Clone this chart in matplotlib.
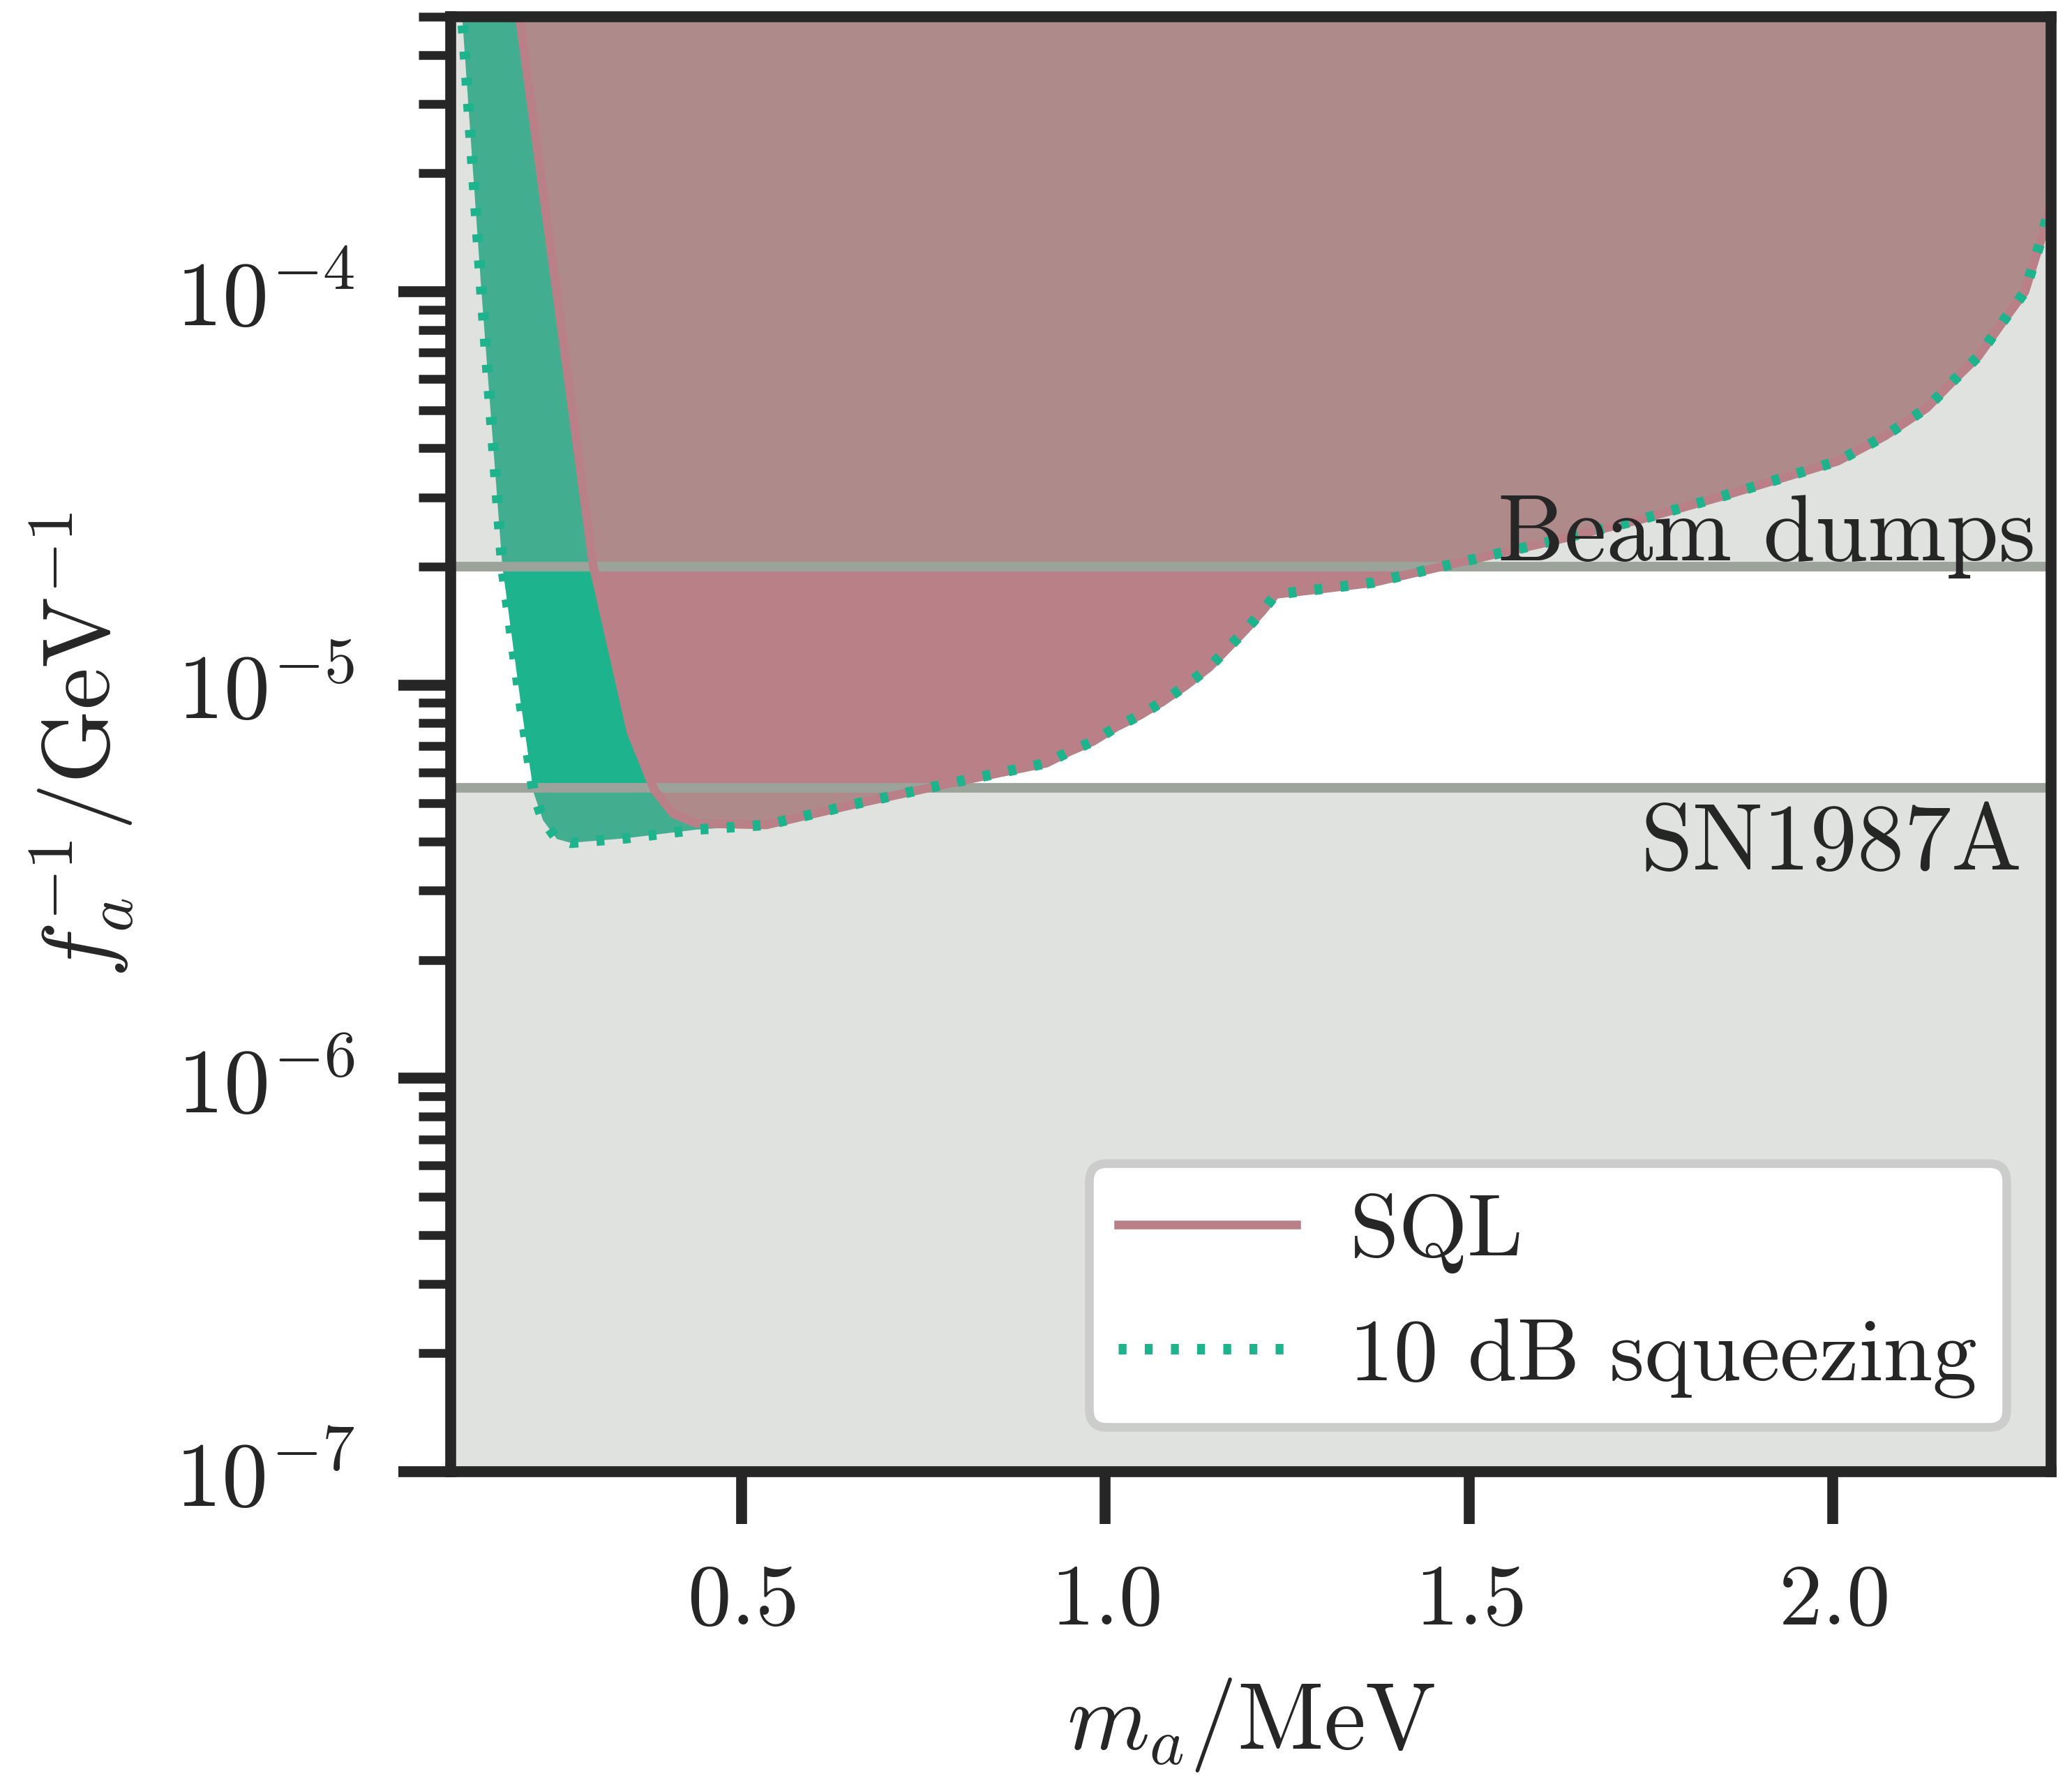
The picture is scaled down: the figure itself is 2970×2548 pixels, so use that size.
import matplotlib
matplotlib.use("Agg")
import matplotlib.pyplot as plt
import matplotlib.transforms as mtransforms
from matplotlib.ticker import FixedLocator, LogLocator, NullFormatter

# data (m_a in MeV, f_a^-1 in GeV^-1)
# upper branch shared by both curves above ~0.5 MeV
tail_m = [0.534, 0.66, 0.789, 0.919, 0.951, 0.983, 1.015, 1.047, 1.079, 1.111, 1.143,
          1.191, 1.217, 1.234, 1.303, 1.367, 1.477, 1.609, 1.734, 1.851, 2.007, 2.072,
          2.129, 2.167, 2.200, 2.236, 2.264, 2.287, 2.30]
tail_f = [4.41e-6, 5.0e-6, 5.64e-6, 6.33e-6, 6.78e-6, 7.19e-6, 7.82e-6, 8.37e-6, 9.08e-6, 9.98e-6, 1.11e-5,
          1.37e-5, 1.55e-5, 1.70e-5, 1.76e-5, 1.82e-5, 2.03e-5, 2.31e-5, 2.63e-5, 3.03e-5, 3.71e-5, 4.3e-5,
          5.06e-5, 5.97e-5, 6.85e-5, 8.5e-5, 1.0e-4, 1.37e-4, 1.7e-4]

sql_m = [0.191, 0.245, 0.296, 0.348, 0.380, 0.406, 0.438] + tail_m
sql_f = [5.6e-4, 1.02e-4, 2.01e-5, 7.6e-6, 5.41e-6, 4.71e-6, 4.45e-6] + tail_f

sqz_m = [0.114, 0.142, 0.171, 0.196, 0.214, 0.227, 0.246, 0.265, 0.342, 0.438] + tail_m
sqz_f = [5.6e-4, 1.02e-4, 2.01e-5, 9.1e-6, 5.33e-6, 4.53e-6, 4.06e-6, 3.97e-6, 4.08e-6, 4.29e-6] + tail_f

beam_dump = 2.0e-5
sn1987a = 5.48e-6

x_ticks = [0.5, 1.0, 1.5, 2.0]

# colours
c_sql = "#b98187"
c_sqz = "#1db38c"
c_excl = "#98a096"
c_line = "#9ca39b"
c_txt = "#262626"

plt.rcParams.update({
    "font.family": "serif",
    "font.serif": ["cmr10"],
    "mathtext.fontset": "cm",
    "axes.formatter.use_mathtext": True,
    "axes.unicode_minus": False,
    "font.size": 10,
    "text.color": c_txt,
    "axes.labelcolor": c_txt,
    "xtick.color": c_txt,
    "ytick.color": c_txt,
})

fig = plt.figure(figsize=(3.3, 2.8322), dpi=900)
ax = fig.add_axes([0.2175, 0.1722, 0.7724, 0.8180])

# filled regions
ax.fill_between(sqz_m, sqz_f, 1.0, color=c_sqz, lw=0, zorder=1)
ax.fill_between(sql_m, sql_f, 1.0, color=c_sql, lw=0, zorder=2)

# excluded regions (tinted overlay)
ax.axhspan(beam_dump, 1.0, color=c_excl, alpha=0.3, lw=0, zorder=3)
ax.axhspan(1e-9, sn1987a, color=c_excl, alpha=0.3, lw=0, zorder=3)
ax.axhline(beam_dump, color=c_line, lw=1.1, zorder=4)
ax.axhline(sn1987a, color=c_line, lw=1.1, zorder=4)

# boundaries
ax.plot(sql_m, sql_f, color=c_sql, lw=1.0, zorder=5, label="SQL")
ax.plot(sqz_m, sqz_f, color=c_sqz, lw=1.2, ls=(0, (0.75, 1.75)), zorder=6,
        label="10 dB squeezing")

# labels of the limits
trans = mtransforms.blended_transform_factory(ax.transAxes, ax.transData)
ax.annotate("Beam dumps", xy=(1.0, beam_dump), xycoords=trans, xytext=(-1.8, 0.8),
            textcoords="offset points", ha="right", va="baseline", fontsize=10.8, zorder=7)
ax.annotate("SN1987A", xy=(1.0, sn1987a), xycoords=trans, xytext=(-3.3, -9.3),
            textcoords="offset points", ha="right", va="baseline", fontsize=10.8, zorder=7)

ax.set_yscale("log")
ax.set_xlim(0.1, 2.3)
ax.set_ylim(1e-7, 5.0e-4)
ax.xaxis.set_major_locator(FixedLocator(x_ticks))
ax.yaxis.set_major_locator(LogLocator(base=10, numticks=10))
ax.yaxis.set_minor_locator(LogLocator(base=10, subs=range(2, 10), numticks=20))
ax.yaxis.set_minor_formatter(NullFormatter())

ax.tick_params(which="major", length=6, width=1.25, pad=4.5, labelsize=10)
ax.tick_params(axis="y", which="major", labelsize=10.6, pad=5.0)
ax.tick_params(which="minor", length=3.7, width=1.0)
ax.tick_params(axis="x", which="minor", length=0)
for sp in ax.spines.values():
    sp.set_linewidth(1.25)
    sp.set_color(c_txt)
    sp.set_zorder(10)

ax.set_xlabel(r"$m_a/\mathrm{MeV}$", fontsize=10.8)
ax.set_ylabel(r"$f_a^{-1}/\mathrm{GeV}^{-1}$", fontsize=10.8)
ax.xaxis.set_label_coords(0.5, -0.14)
ax.yaxis.set_label_coords(-0.197, 0.5)

leg = ax.legend(loc="lower right", fontsize=10.2, fancybox=True, framealpha=1.0,
                edgecolor="#cccccc", facecolor="white", borderpad=0.33,
                handletextpad=0.6)
leg.get_frame().set_linewidth(1.0)
leg.set_zorder(8)

fig.savefig("out.png", dpi=900)
